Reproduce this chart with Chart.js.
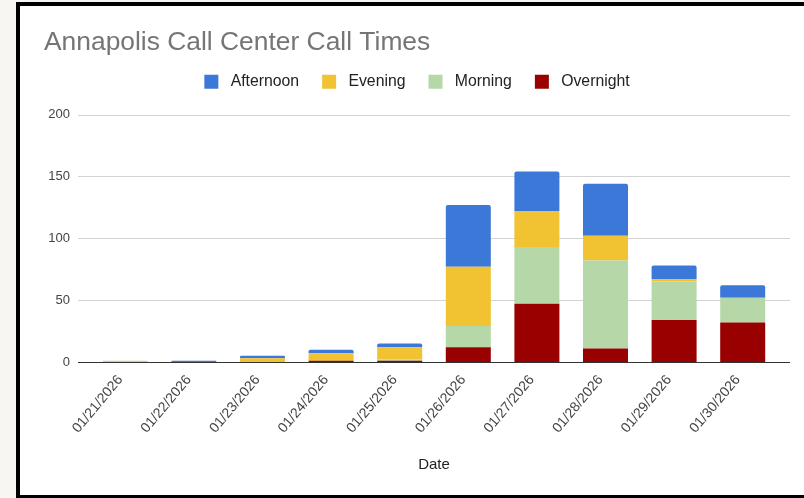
<!DOCTYPE html>
<html>
<head>
<meta charset="utf-8">
<script src="https://cdn.jsdelivr.net/npm/chart.js@4.4.1/dist/chart.umd.min.js"></script>
<style>
  body { margin: 0; background: #f7f6f2; font-family: "Liberation Sans", Arial, sans-serif; }
  #frame {
    position: absolute; left: 16px; top: 2px;
    width: 788px; height: 496px; box-sizing: border-box;
    border-left: 4px solid #000; border-top: 4px solid #000; border-bottom: 3px solid #000;
    background: #fff;
  }
  canvas { display: block; }
</style>
</head>
<body>
<div id="frame"><canvas id="myChart" width="784" height="489"></canvas></div>
<script>
var dates = ["01/21/2026", "01/22/2026", "01/23/2026", "01/24/2026", "01/25/2026",
             "01/26/2026", "01/27/2026", "01/28/2026", "01/29/2026", "01/30/2026"];
var overnight = [0, 0, 0, 1, 1, 12, 47, 11, 34, 32];
var morning   = [1, 0, 0, 0, 1, 17, 46, 71, 31, 20];
var evening   = [0, 0, 3, 6, 10, 48, 29, 20, 2, 0];
var afternoon = [0, 1, 2, 3, 3, 50, 32, 42, 11, 10];
var yTicks = [0, 50, 100, 150, 200];

var font = "Liberation Sans";
Chart.defaults.font.family = font;

// google-style gridlines that run a bit past the bars
var gridExt = {
  id: 'gridExt',
  beforeDatasetsDraw: function(chart) {
    var ctx = chart.ctx, area = chart.chartArea, y = chart.scales.y;
    ctx.save();
    ctx.lineWidth = 1;
    yTicks.forEach(function(v) {
      var py = Math.round(y.getPixelForValue(v)) + 0.5;
      ctx.strokeStyle = v === 0 ? '#333333' : '#d3d3d3';
      ctx.beginPath();
      ctx.moveTo(area.left - 13, py);
      ctx.lineTo(area.right + 13, py);
      ctx.stroke();
    });
    ctx.restore();
  }
};

// more room under the legend row, and nudge it a bit right
var legendFix = {
  id: 'legendFix',
  beforeLayout: function(chart) {
    var lg = chart.legend;
    if (lg && !lg.fixed) {
      var fit = lg.fit;
      lg.fit = function() { fit.call(this); this.height += 15; };
      lg.fixed = true;
    }
  },
  afterLayout: function(chart) {
    if (chart.legend) chart.legend.left += 13;
  }
};

function ds(label, values, color) {
  return { label: label, data: values, backgroundColor: color, borderWidth: 0, borderRadius: 2 };
}

var ctx = document.getElementById("myChart").getContext("2d");
var myChart = new Chart(ctx, {
  type: 'bar',
  data: {
    labels: dates,
    datasets: [
      ds("Overnight", overnight, "#990000"),
      ds("Morning", morning, "#b6d7a8"),
      ds("Evening", evening, "#f1c232"),
      ds("Afternoon", afternoon, "#3c78d8")
    ]
  },
  plugins: [gridExt, legendFix],
  options: {
    responsive: false,
    animation: false,
    devicePixelRatio: 1,
    barPercentage: 0.656,
    categoryPercentage: 1,
    layout: { padding: { left: 24, right: 27, top: 0, bottom: 0 } },
    plugins: {
      title: {
        display: true,
        text: "Annapolis Call Center Call Times",
        align: 'start',
        color: '#757575',
        font: { family: font, size: 26.4, weight: 'normal' },
        padding: { top: 21.2, bottom: -8.1 }
      },
      legend: {
        reverse: true,
        labels: {
          color: '#222222',
          font: { family: font, size: 15.8 },
          boxWidth: 14,
          boxHeight: 14,
          padding: 23,
          generateLabels: function(chart) {
            var items = Chart.defaults.plugins.legend.labels.generateLabels(chart);
            items.forEach(function(it) { it.text = " " + it.text; it.lineWidth = 0; });
            return items;
          }
        }
      },
      tooltip: { enabled: false }
    },
    scales: {
      x: {
        stacked: true,
        grid: { display: false, drawTicks: false },
        border: { display: false },
        ticks: {
          color: '#444444',
          font: { family: font, size: 14 },
          minRotation: 50,
          maxRotation: 50,
          labelOffset: -5,
          padding: 10
        },
        title: {
          display: true,
          text: "Date",
          color: '#222222',
          font: { family: font, size: 15 },
          padding: { top: 0, bottom: 21 }
        },
        afterFit: function(s) { s.height = 133; }
      },
      y: {
        stacked: true,
        min: 0,
        max: 200,
        grid: { display: false, drawTicks: false },
        border: { display: false },
        ticks: {
          stepSize: 50,
          color: '#444444',
          font: { family: font, size: 13 },
          padding: 21
        },
        afterFit: function(s) { s.width = 47; }
      }
    }
  }
});
</script>
</body>
</html>
